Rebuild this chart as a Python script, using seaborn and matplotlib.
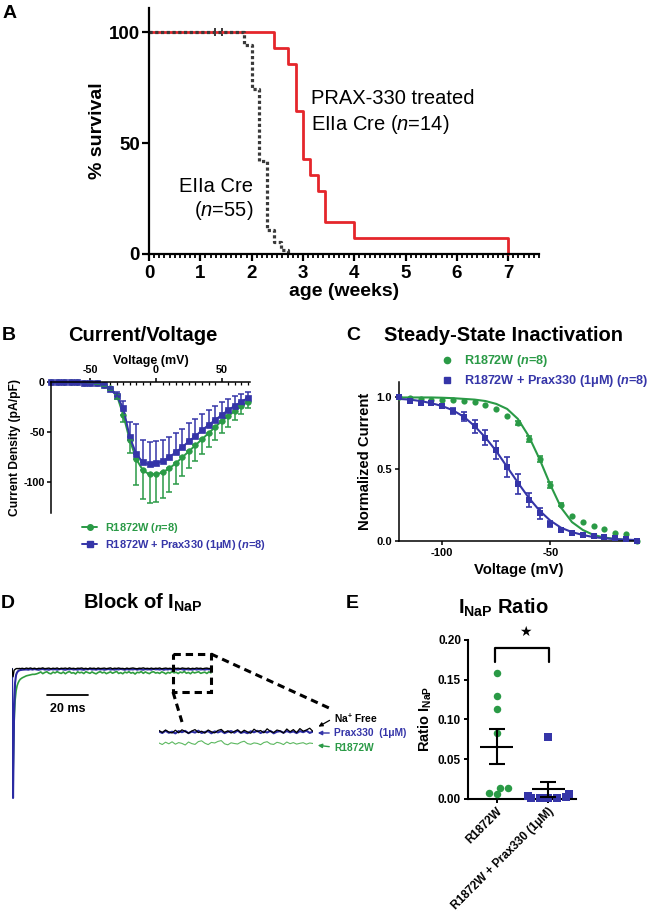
import numpy as np
import pandas as pd
import matplotlib
matplotlib.use('Agg')
import matplotlib.pyplot as plt
from matplotlib.lines import Line2D
from matplotlib.patches import Rectangle
from matplotlib.ticker import MultipleLocator, FormatStrFormatter
import seaborn as sns

FIG_W, FIG_H = 662, 919

# --- Panel A: survival (weeks, % surviving) ---
treated_weeks = [0, 2.43, 2.71, 2.86, 3.0, 3.14, 3.29, 3.43, 4.0, 7.0]
treated_surv = [100, 92.9, 85.7, 64.3, 42.9, 35.7, 28.6, 14.3, 7.1, 0]
untreated_weeks = [0, 1.86, 2.0, 2.14, 2.29, 2.43, 2.57, 2.71]
untreated_surv = [100, 94.5, 74.5, 41.8, 10.9, 5.5, 1.8, 0]
censor_weeks = [1.29, 1.43]
censor_surv = [100, 100]
age_ticks = [0, 1, 2, 3, 4, 5, 6, 7]
survival_ticks = [0, 50, 100]

# --- Panel B: current/voltage (mV, pA/pF) ---
iv_voltage = [-80, -75, -70, -65, -60, -55, -50, -45, -40, -35, -30, -25, -20, -15, -10, -5,
              0, 5, 10, 15, 20, 25, 30, 35, 40, 45, 50, 55, 60, 65, 70]
iv_r1872w_mean = [-0.5, -0.5, -0.5, -0.5, -0.6, -0.8, -1.0, -1.5, -3.3, -6.6, -13, -33, -58, -77, -88, -92,
                  -92, -90, -86, -81, -75, -69, -63, -57, -51, -45, -39, -34, -29, -24, -20]
iv_r1872w_sem = [0, 0, 0, 0, 0, 0, 0.3, 0.5, 1, 2, 4, 7, 13, 26, 28, 28,
                 27, 25, 23, 21, 19, 17, 16, 15, 14, 13, 12, 11, 9, 8, 6]
iv_prax_mean = [-0.5, -0.5, -0.5, -0.5, -0.6, -0.8, -1.0, -1.5, -3.5, -7, -14, -26, -55, -72, -80, -82,
                -81, -79, -75, -70, -65, -59, -54, -48, -43, -38, -33, -28, -24, -20, -16]
iv_prax_sem = [0, 0, 0, 0, 0, 0, 0.3, 0.5, 1, 2, 4, 7, 15, 30, 22, 22,
               22, 21, 20, 19, 18, 18, 17, 16, 15, 14, 13, 11, 10, 8, 6]
iv_xticks = [-50, 0, 50]
iv_yticks = [0, -50, -100]

# --- Panel C: steady-state inactivation ---
ssi_voltage = [-120, -115, -110, -105, -100, -95, -90, -85, -80, -75, -70, -65,
               -60, -55, -50, -45, -40, -35, -30, -25, -20, -15, -10]
ssi_r1872w_mean = [1.0, 0.995, 0.99, 0.985, 0.98, 0.98, 0.977, 0.965, 0.947, 0.917, 0.87, 0.82,
                   0.71, 0.57, 0.39, 0.25, 0.17, 0.128, 0.105, 0.08, 0.057, 0.047, 0.0]
ssi_r1872w_sem = [0, 0, 0, 0, 0, 0, 0, 0, 0, 0, 0, 0.015,
                  0.02, 0.02, 0.02, 0.01, 0, 0, 0, 0, 0, 0, 0]
ssi_r1872w_fit = [1.0, 1.0, 1.0, 1.0, 0.998, 0.995, 0.99, 0.985, 0.975, 0.955, 0.92, 0.85,
                  0.73, 0.57, 0.39, 0.23, 0.13, 0.075, 0.04, 0.022, 0.012, 0.006, 0.003]
ssi_prax_mean = [1.0, 0.975, 0.963, 0.958, 0.94, 0.907, 0.865, 0.80, 0.72, 0.633, 0.516, 0.395,
                 0.284, 0.19, 0.116, 0.074, 0.056, 0.04, 0.033, 0.028, 0.016, 0.01, 0.0]
ssi_prax_sem = [0, 0.01, 0.01, 0.01, 0.015, 0.02, 0.03, 0.045, 0.05, 0.065, 0.07, 0.07,
                0.05, 0.04, 0.02, 0.01, 0.01, 0.01, 0.01, 0.005, 0.005, 0.005, 0]
ssi_prax_fit = [0.99, 0.985, 0.975, 0.96, 0.94, 0.91, 0.865, 0.80, 0.72, 0.625, 0.515, 0.405,
                0.30, 0.21, 0.14, 0.09, 0.06, 0.04, 0.025, 0.017, 0.011, 0.007, 0.005]
ssi_xticks = [-100, -50]
ssi_yticks = [0.0, 0.5, 1.0]

# --- Panel D: example traces (ms, arbitrary current units) ---
trace_time_ms = [0, 0.5, 1, 1.5, 2, 2.5, 3, 3.5, 4,
                 5, 6, 7, 8, 9, 10, 11, 12, 13, 14,
                 15, 16, 17, 18, 19, 20, 21, 22, 23, 24,
                 25, 26, 27, 28, 29, 30, 31, 32, 33, 34,
                 35, 36, 37, 38, 39, 40, 41, 42, 43, 44,
                 45, 46, 47, 48, 49, 50, 51, 52, 53, 54,
                 55, 56, 57, 58, 59, 60, 61, 62, 63, 64,
                 65, 66, 67, 68, 69, 70, 71, 72, 73, 74,
                 75, 76, 77, 78, 79, 80, 81, 82, 83, 84,
                 85, 86, 87, 88, 89, 90, 91, 92, 93, 94,
                 95, 96, 97]
trace_r1872w = [0, -110, -55, -32, -22, -17, -14, -12, -10.5,
                -9, -8, -7, -6.5, -6, -5.5, -5.5, -5,
                -4.2, -3.1, -4.8, -3.6, -2.9, -4.4, -5.0, -3.3, -4.1, -2.8,
                -3.9, -4.6, -3.2, -4.9, -3.5, -2.7, -4.3, -3.8, -5.1, -3.0,
                -4.0, -3.4, -4.7, -2.9, -3.7, -4.5, -3.1, -4.2, -5.0, -3.6,
                -2.8, -4.1, -3.3, -4.8, -3.9, -3.0, -4.4, -3.5, -2.6, -4.6,
                -3.8, -4.9, -3.2, -4.0, -2.9, -4.3, -3.6, -5.2, -3.4, -3.9,
                -2.7, -4.5, -3.1, -4.1, -4.8, -3.3, -2.9, -4.2, -3.7, -4.6,
                -3.0, -3.8, -5.0, -3.5, -4.3, -2.8, -4.0, -3.4, -4.7, -3.2,
                -3.9, -2.6, -4.4, -3.6, -4.9, -3.1, -4.1, -3.5, -2.9, -4.5,
                -3.8, -3.3, -4.6, -3.0, -4.0]
trace_prax330 = [0, -130, -45, -14, -6, -3.5, -2.2, -1.6, -1.2,
                 -0.9, -0.7, -0.6, -0.8, -0.3, -0.7, -0.2, -0.6, -0.9, -0.4,
                 -0.1, -0.7, -0.5, -0.9, -0.2, -0.6, -0.3, -0.8, -0.4, 0.0,
                 -0.6, -0.9, -0.3, -0.5, -0.1, -0.7, -0.4, -0.8, -0.2, -0.6,
                 -0.9, -0.3, -0.5, 0.1, -0.7, -0.4, -0.8, -0.2, -0.6, -0.3,
                 -0.9, -0.5, -0.1, -0.7, -0.4, -0.8, -0.3, -0.6, 0.0, -0.5,
                 -0.9, -0.2, -0.7, -0.4, -0.6, -0.1, -0.8, -0.3, -0.5, -0.9,
                 -0.2, -0.6, -0.4, -0.8, 0.1, -0.5, -0.3, -0.7, -0.2, -0.9,
                 -0.4, -0.6, -0.1, -0.8, -0.3, -0.5, -0.7, 0.0, -0.4, -0.9,
                 -0.2, -0.6, -0.5, -0.8, -0.1, -0.7, -0.3, -0.6, -0.4, -0.8,
                 -0.2, -0.5, -0.3]
trace_na_free = [0, -8, -1.5, -0.5, 0.2, 0.4, 0.1, 0.5, 0.2,
                 0.6, 0.1, 0.8, 0.3, 0.9, 0.2, 0.7, 0.0, 0.6, 0.4,
                 1.0, 0.2, 0.5, 0.8, 0.1, 0.7, 0.3, 0.9, 0.0, 0.6,
                 0.4, 0.8, 0.2, 1.0, 0.3, 0.6, 0.1, 0.7, 0.5, 0.9,
                 0.2, 0.6, 0.0, 0.8, 0.4, 0.7, 0.1, 0.9, 0.3, 0.5,
                 0.8, 0.2, 0.6, 1.0, 0.1, 0.7, 0.4, 0.9, 0.3, 0.5,
                 0.0, 0.8, 0.2, 0.6, 0.9, 0.4, 0.1, 0.7, 0.5, 1.0,
                 0.3, 0.6, 0.2, 0.8, 0.0, 0.7, 0.4, 0.9, 0.1, 0.5,
                 0.8, 0.3, 0.6, 0.2, 1.0, 0.4, 0.7, 0.1, 0.9, 0.5,
                 0.3, 0.8, 0.0, 0.6, 0.2, 0.9, 0.4, 0.7, 0.1, 0.6,
                 0.8, 0.3, 0.5]
# zoomed segment (higher gain)
inset_prax330 = [0.5, -1.0, 1.2, -0.8, 0.3, -1.4, 0.9, -0.2, 1.1, -1.2,
                 0.4, -0.6, 1.3, -1.0, 0.0, 0.8, -1.3, 0.6, -0.4, 1.0,
                 -1.1, 0.2, 0.9, -0.7, 1.4, -0.9, 0.1, -1.2, 0.7, -0.3,
                 1.2, -1.0, 0.5, -0.5, 1.1, -1.3, 0.3, 0.8, -0.8, 1.0,
                 -0.4, 0.6, -1.1, 0.9, -0.2, 1.3, -0.9, 0.4]
inset_na_free = [1.5, -0.5, 2.0, 0.0, -1.0, 1.8, -0.8, 2.2, 0.5, -1.2,
                 1.0, 2.4, -0.6, 0.8, -1.1, 2.0, 0.2, -0.9, 1.6, 2.6,
                 -0.4, 1.2, -1.0, 0.6, 2.2, -0.7, 1.8, 0.1, -1.2, 2.8,
                 0.4, 1.5, -0.8, 3.2, 0.6, -0.5, 2.0, 1.0, -1.0, 3.0,
                 0.2, 2.4, -0.6, 3.4, 0.8, 2.0, 3.8, 0.5]
inset_r1872w = [-11.0, -12.5, -10.2, -11.8, -9.8, -12.2, -10.6, -11.4, -13.0, -10.0,
                -11.6, -12.4, -9.6, -8.8, -11.2, -12.6, -10.4, -11.0, -9.4, -8.6,
                -11.8, -12.8, -10.8, -11.5, -12.0, -10.2, -9.2, -11.6, -12.3, -10.9,
                -11.4, -12.7, -10.5, -9.7, -11.9, -12.4, -10.3, -11.1, -12.6, -10.0,
                -11.7, -10.6, -12.1, -11.3, -10.7, -12.2, -11.0, -11.5]

# --- Panel E: I_NaP ratio ---
ratio_groups = ['R1872W', 'R1872W + Prax330 (1μM)']
ratio_r1872w = [0.158, 0.130, 0.113, 0.083, 0.014, 0.0055, 0.0067, 0.014]
ratio_prax330 = [0.078, 0.006, 0.004, 0.002, 0.001, 0.0005, 0.0015, 0.0005]
ratio_ticks = [0.0, 0.05, 0.10, 0.15, 0.20]

RED = '#e5262b'
DOT_GREY = '#3a3a3a'
GREEN = '#2a9a46'
BLUE = '#3535a8'
GREEN_TRACE = '#2f9e3f'
GREEN_LIGHT = '#5cb860'
BLUE_TRACE = '#2a2aa2'

sns.set_theme(style='ticks', rc={'axes.edgecolor': 'black', 'xtick.color': 'black',
                                 'ytick.color': 'black', 'text.color': 'black',
                                 'axes.labelcolor': 'black'})
plt.rcParams['font.family'] = ['Liberation Sans', 'DejaVu Sans']
plt.rcParams['axes.unicode_minus'] = False
plt.rcParams['mathtext.fontset'] = 'custom'
plt.rcParams['mathtext.rm'] = 'Liberation Sans'
plt.rcParams['mathtext.it'] = 'Liberation Sans:italic'
plt.rcParams['mathtext.bf'] = 'Liberation Sans:bold'
plt.rcParams['mathtext.bfit'] = 'Liberation Sans:italic:bold'


def px_box(left, top, right, bottom):
    return [left / FIG_W, 1 - bottom / FIG_H, (right - left) / FIG_W, (bottom - top) / FIG_H]


def fig_xy(x, y):
    return (x / FIG_W, 1 - y / FIG_H)


def bold_ticks(ax):
    for lbl in ax.get_xticklabels() + ax.get_yticklabels():
        lbl.set_fontweight('bold')


fig = plt.figure(figsize=(6.62, 9.19), dpi=100)

# overlay in pixel coords for panel letters, titles and annotations
ov = fig.add_axes([0, 0, 1, 1], zorder=10)
ov.set_xlim(0, FIG_W)
ov.set_ylim(FIG_H, 0)
ov.axis('off')
ov.patch.set_visible(False)

# ---------------- A ----------------
ax_a = fig.add_axes(px_box(149, 8, 539, 254))
sns.lineplot(x=treated_weeks, y=treated_surv, ax=ax_a, color=RED, lw=2.0,
             drawstyle='steps-post', estimator=None, sort=False, clip_on=False)
sns.lineplot(x=untreated_weeks, y=untreated_surv, ax=ax_a, color=DOT_GREY, lw=2.3,
             drawstyle='steps-post', estimator=None, sort=False, clip_on=False)
ax_a.lines[-1].set_linestyle((0, (1, 0.8)))
sns.scatterplot(x=censor_weeks, y=censor_surv, ax=ax_a, marker='|', s=35, color=DOT_GREY,
                linewidth=1.4, clip_on=False)
ax_a.set_xlim(0, 7.6)
ax_a.set_ylim(0, 111)
ax_a.set_xticks(age_ticks)
ax_a.xaxis.set_minor_locator(MultipleLocator(0.1))
ax_a.set_yticks(survival_ticks)
sns.despine(ax=ax_a)
for s in ['left', 'bottom']:
    ax_a.spines[s].set_linewidth(1.6)
ax_a.tick_params(which='major', length=5, width=1.6, labelsize=13.5, pad=1.5)
ax_a.tick_params(axis='x', which='major', pad=3)
ax_a.tick_params(axis='x', which='minor', length=3.2, width=1.3)
bold_ticks(ax_a)
ax_a.set_xlabel('age (weeks)', fontsize=14, fontweight='bold', labelpad=1)
ax_a.set_ylabel('% survival', fontsize=14, fontweight='bold', labelpad=2)

ov.text(311, 99, 'PRAX-330 treated', fontsize=14.5, ha='left', va='center')
ov.text(311, 124, r'EIIa Cre ($n$=14)', fontsize=14.5, ha='left', va='center')
ov.text(253, 186, 'EIIa Cre', fontsize=14.5, ha='right', va='center')
ov.text(253, 211, r'($n$=55)', fontsize=14.5, ha='right', va='center')

# ---------------- B ----------------
ax_b = fig.add_axes(px_box(51, 381.7, 250, 512.7))
sns.lineplot(x=iv_voltage, y=iv_r1872w_mean, ax=ax_b, color=GREEN, lw=1.4, marker='o',
             markersize=4, markeredgecolor=GREEN, markeredgewidth=0.5,
             estimator=None, sort=False, clip_on=False)
sns.lineplot(x=iv_voltage, y=iv_prax_mean, ax=ax_b, color=BLUE, lw=1.4, marker='s',
             markersize=4, markeredgecolor=BLUE, markeredgewidth=0.5,
             estimator=None, sort=False, clip_on=False)
ax_b.errorbar(iv_voltage, iv_r1872w_mean, yerr=[iv_r1872w_sem, np.zeros(len(iv_r1872w_sem))],
              fmt='none', ecolor=GREEN, elinewidth=1.1, capsize=2.2, capthick=1.1, clip_on=False)
ax_b.errorbar(iv_voltage, iv_prax_mean, yerr=[np.zeros(len(iv_prax_sem)), iv_prax_sem],
              fmt='none', ecolor=BLUE, elinewidth=1.1, capsize=2.2, capthick=1.1, clip_on=False)
ax_b.set_xlim(-80, 71.5)
ax_b.set_ylim(-130, 0)
ax_b.xaxis.tick_top()
ax_b.xaxis.set_label_position('top')
ax_b.spines['bottom'].set_visible(False)
ax_b.spines['right'].set_visible(False)
for s in ['left', 'top']:
    ax_b.spines[s].set_linewidth(1.1)
ax_b.set_xticks(iv_xticks)
ax_b.xaxis.set_minor_locator(MultipleLocator(5))
ax_b.set_yticks(iv_yticks)
ax_b.tick_params(axis='x', which='major', direction='out', length=3, width=1.1, labelsize=7.8, pad=1.5)
ax_b.tick_params(axis='x', which='minor', direction='in', length=2.2, width=0.9)
ax_b.tick_params(axis='y', which='major', direction='out', length=3, width=1.1, labelsize=7.8, pad=1.5)
bold_ticks(ax_b)
ax_b.set_xlabel('Voltage (mV)', fontsize=9, fontweight='bold', labelpad=1)
ax_b.set_ylabel('Current Density (pA/pF)', fontsize=8.7, fontweight='bold', labelpad=2)

b_handles = [Line2D([], [], color=GREEN, marker='o', ms=4, lw=1.4),
             Line2D([], [], color=BLUE, marker='s', ms=4, lw=1.4)]
b_labels = [r'R1872W ($\mathbfit{n}$=8)', r'R1872W + Prax330 (1μM) ($\mathbfit{n}$=8)']
fig.legend(b_handles, b_labels, loc='upper left', bbox_to_anchor=fig_xy(82, 521),
           frameon=False, prop={'weight': 'bold', 'size': 7.9}, labelcolor='linecolor',
           handlelength=1.4, handletextpad=0.7, labelspacing=0.3, borderpad=0, borderaxespad=0)

# ---------------- C ----------------
ax_c = fig.add_axes(px_box(399, 381.7, 639, 540.7))
sns.lineplot(x=ssi_voltage, y=ssi_r1872w_fit, ax=ax_c, color=GREEN, lw=1.5,
             estimator=None, sort=False, clip_on=False)
sns.lineplot(x=ssi_voltage, y=ssi_prax_fit, ax=ax_c, color=BLUE, lw=1.5,
             estimator=None, sort=False, clip_on=False)
for means, sems, col in [(ssi_r1872w_mean, ssi_r1872w_sem, GREEN), (ssi_prax_mean, ssi_prax_sem, BLUE)]:
    keep = [i for i, e in enumerate(sems) if e > 0]
    ax_c.errorbar([ssi_voltage[i] for i in keep], [means[i] for i in keep],
                  yerr=[sems[i] for i in keep], fmt='none', ecolor=col,
                  elinewidth=1.2, capsize=2.3, capthick=1.2, clip_on=False)
sns.scatterplot(x=ssi_voltage, y=ssi_r1872w_mean, ax=ax_c, color=GREEN, marker='o', s=20,
                edgecolor=GREEN, linewidth=0, clip_on=False, zorder=3)
sns.scatterplot(x=ssi_voltage, y=ssi_prax_mean, ax=ax_c, color=BLUE, marker='s', s=22,
                edgecolor=BLUE, linewidth=0, clip_on=False, zorder=3)
ax_c.set_xlim(-120, -9)
ax_c.set_ylim(0, 1.11)
ax_c.set_xticks(ssi_xticks)
ax_c.set_yticks(ssi_yticks)
ax_c.yaxis.set_major_formatter(FormatStrFormatter('%.1f'))
sns.despine(ax=ax_c)
for s in ['left', 'bottom']:
    ax_c.spines[s].set_linewidth(1.1)
ax_c.tick_params(which='major', direction='out', length=3, width=1.1, labelsize=8, pad=2)
bold_ticks(ax_c)
ax_c.set_xlabel('Voltage (mV)', fontsize=10.7, fontweight='bold', labelpad=4)
ax_c.set_ylabel('Normalized Current', fontsize=10.7, fontweight='bold', labelpad=3)

c_handles = [Line2D([], [], color=GREEN, marker='o', ms=4.5, ls='none'),
             Line2D([], [], color=BLUE, marker='s', ms=4.5, ls='none')]
c_labels = [r'R1872W ($\mathbfit{n}$=8)', r'R1872W + Prax330 (1μM) ($\mathbfit{n}$=8)']
fig.legend(c_handles, c_labels, loc='upper left', bbox_to_anchor=fig_xy(441, 353),
           frameon=False, prop={'weight': 'bold', 'size': 9.1}, labelcolor='linecolor',
           handlelength=1.0, handletextpad=0.8, labelspacing=0.35, borderpad=0, borderaxespad=0)

# ---------------- D ----------------
ax_d = fig.add_axes(px_box(12, 650, 212, 800))
sns.lineplot(x=trace_time_ms, y=trace_r1872w, ax=ax_d, color=GREEN_TRACE, lw=1.2,
             estimator=None, sort=False)
sns.lineplot(x=trace_time_ms, y=trace_prax330, ax=ax_d, color=BLUE_TRACE, lw=1.5,
             estimator=None, sort=False)
sns.lineplot(x=trace_time_ms, y=trace_na_free, ax=ax_d, color='black', lw=1.0,
             estimator=None, sort=False)
ax_d.set_xlim(0, 97.5)
ax_d.set_ylim(-132, 19)
ax_d.axis('off')
# 20 ms scale bar
ax_d.plot([17, 37], [-26, -26], color='black', lw=1.3)
ax_d.text(27, -40, '20 ms', ha='center', va='center', fontsize=9, fontweight='bold')

ax_dz = fig.add_axes(px_box(159, 722, 313, 752))
inset_idx = np.arange(len(inset_r1872w))
sns.lineplot(x=inset_idx, y=inset_r1872w, ax=ax_dz, color=GREEN_LIGHT, lw=0.8,
             estimator=None, sort=False)
sns.lineplot(x=inset_idx, y=inset_prax330, ax=ax_dz, color=BLUE_TRACE, lw=1.5,
             estimator=None, sort=False)
sns.lineplot(x=inset_idx, y=inset_na_free, ax=ax_dz, color='black', lw=0.9,
             estimator=None, sort=False)
ax_dz.set_xlim(0, len(inset_idx) - 1)
ax_dz.set_ylim(-20, 10)
ax_dz.axis('off')

dash = (0, (2.4, 1.6))
ov.add_patch(Rectangle((173, 654), 38, 38, fill=False, ec='black', lw=2.2, ls=dash))
ov.plot([173, 182], [692, 722], color='black', lw=2.2, ls=dash)
ov.plot([211, 329], [654, 708], color='black', lw=2.2, ls=dash)
ov.annotate('', xy=(316, 728), xytext=(332, 719),
            arrowprops=dict(arrowstyle='-|>', color='black', lw=0.9, mutation_scale=6))
ov.annotate('', xy=(315, 733), xytext=(332, 733),
            arrowprops=dict(arrowstyle='-|>', color=BLUE, lw=1.0, mutation_scale=6))
ov.annotate('', xy=(315, 745), xytext=(332, 747),
            arrowprops=dict(arrowstyle='-|>', color=GREEN, lw=1.0, mutation_scale=6))
ov.text(334, 718, r'Na$^{\mathbf{+}}$ Free', fontsize=7.4, fontweight='bold', ha='left', va='center')
ov.text(334, 733, 'Prax330  (1μM)', fontsize=7.4, fontweight='bold', color=BLUE, ha='left', va='center')
ov.text(334, 748, 'R1872W', fontsize=7.4, fontweight='bold', color=GREEN, ha='left', va='center')

# ---------------- E ----------------
ax_e = fig.add_axes(px_box(468, 640, 576, 798.7))
df_e = pd.DataFrame({
    'group': [ratio_groups[0]] * len(ratio_r1872w) + [ratio_groups[1]] * len(ratio_prax330),
    'ratio': ratio_r1872w + ratio_prax330,
})
sns.swarmplot(data=df_e[df_e['group'] == ratio_groups[0]], x='group', y='ratio', order=ratio_groups,
              color=GREEN, marker='o', size=5.4, ax=ax_e, clip_on=False, warn_thresh=1)
sns.swarmplot(data=df_e[df_e['group'] == ratio_groups[1]], x='group', y='ratio', order=ratio_groups,
              color=BLUE, marker='s', size=6.0, ax=ax_e, clip_on=False, warn_thresh=1)
for i, vals in enumerate([ratio_r1872w, ratio_prax330]):
    m = np.mean(vals)
    sem = np.std(vals, ddof=1) / np.sqrt(len(vals))
    ax_e.hlines(m, i - 0.32, i + 0.32, color='black', lw=1.5, zorder=4)
    ax_e.errorbar([i], [m], yerr=[sem], fmt='none', ecolor='black', elinewidth=1.5,
                  capsize=5.8, capthick=1.5, zorder=4)
ax_e.set_xlim(-0.556, 1.537)
ax_e.set_ylim(0, 0.2)
ax_e.set_yticks(ratio_ticks)
ax_e.yaxis.set_major_formatter(FormatStrFormatter('%.2f'))
ax_e.set_xticks([0, 1])
ax_e.set_xticklabels(ratio_groups, rotation=45, ha='right', rotation_mode='anchor',
                     fontsize=9, fontweight='bold')
sns.despine(ax=ax_e)
for s in ['left', 'bottom']:
    ax_e.spines[s].set_linewidth(1.5)
ax_e.tick_params(which='major', direction='out', length=3, width=1.4, labelsize=8.5, pad=2)
bold_ticks(ax_e)
ax_e.set_xlabel('')
ax_e.set_ylabel(r'Ratio I$_{\mathbf{NaP}}$', fontsize=10.5, fontweight='bold', labelpad=3)

# significance bracket
ov.plot([495, 495, 549, 549], [662, 648, 648, 662], color='black', lw=1.6)
ov.text(525, 632, '★', fontsize=10, ha='center', va='center', family=['DejaVu Sans'])

# ---------------- letters and titles ----------------
for letter, x, y in [('A', 3, 18.5), ('B', 2, 340), ('C', 346, 340), ('D', 1, 608), ('E', 346, 608)]:
    ov.text(x, y, letter, fontsize=14, fontweight='bold', ha='left', va='baseline')
ov.text(142.5, 340.7, 'Current/Voltage', fontsize=14.5, fontweight='bold', ha='center', va='baseline')
ov.text(503, 340.7, 'Steady-State Inactivation', fontsize=14.5, fontweight='bold', ha='center', va='baseline')
ov.text(143, 608.3, r'Block of I$_{\mathbf{NaP}}$', fontsize=14.5, fontweight='bold', ha='center', va='baseline')
ov.text(503, 613.3, r'I$_{\mathbf{NaP}}$ Ratio', fontsize=14.5, fontweight='bold', ha='center', va='baseline')

fig.savefig('out.png', dpi=100)
